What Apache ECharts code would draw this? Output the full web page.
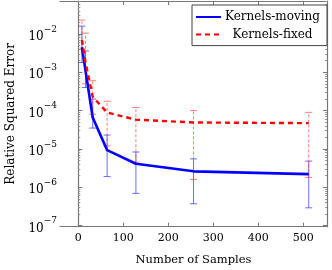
<!DOCTYPE html>
<html><head><meta charset="utf-8">
<script src="https://cdn.jsdelivr.net/npm/echarts@6/dist/echarts.min.js"></script>
<style>html,body{margin:0;padding:0;background:#fff}#c{width:332px;height:270px}</style>
</head><body><div id="c"></div>
<script>
const samples = [8, 16, 32, 64, 128, 256, 512];
const movingMean = [4.5e-3, 1.1e-3, 6.6e-5, 9.3e-6, 4.1e-6, 2.6e-6, 2.2e-6];
const movingLow  = [1.8e-3, 4.0e-4, 3.5e-5, 1.9e-6, 6.9e-7, 3.7e-7, 2.9e-7];
const movingHigh = [1.6e-2, 3.6e-3, 2.0e-4, 2.3e-5, 8.3e-6, 5.5e-6, 4.8e-6];
const fixedMean  = [7.0e-3, 1.8e-3, 2.3e-4, 8.9e-5, 5.8e-5, 4.9e-5, 4.7e-5];
const fixedLow   = [4.0e-3, 5.0e-4, 8.0e-5, 1.2e-5, 4.5e-6, 1.6e-6, 1.8e-6];
const fixedHigh  = [2.3e-2, 1.05e-2, 6.0e-4, 1.75e-4, 1.2e-4, 1.0e-4, 9.0e-5];
const xTicks = [0, 100, 200, 300, 400, 500];
const yTicks = [1e-7, 1e-6, 1e-5, 1e-4, 1e-3, 1e-2];
const yMinor = [];
for (let e = -8; e <= -1; e++) for (let m = 2; m <= 9; m++) yMinor.push(m * Math.pow(10, e));
const names = ['Kernels-moving', 'Kernels-fixed'];

const FONT = 'DejaVu Serif';
const xMin = -40.7, xMax = 552.6, yMin = Math.pow(10, -7.03), yMax = Math.pow(10, -1.14);

function errData(lo, hi) { return samples.map((x, i) => [x, lo[i], hi[i]]); }
function errSeries(name, lo, hi, color, dashed) {
  return {
    type: 'custom', name: name, z: 1,
    data: errData(lo, hi),
    encode: { x: 0, y: [1, 2] },
    renderItem: function (params, api) {
      const x = api.value(0);
      const p1 = api.coord([x, api.value(1)]);
      const p2 = api.coord([x, api.value(2)]);
      const st = { stroke: color, lineWidth: 1, lineDash: dashed ? [3, 2] : null };
      const h = 3.5;
      return { type: 'group', children: [
        { type: 'line', shape: { x1: p1[0], y1: p1[1], x2: p2[0], y2: p2[1] }, style: st },
        { type: 'line', shape: { x1: p1[0] - h, y1: p1[1], x2: p1[0] + h, y2: p1[1] }, style: { stroke: color, lineWidth: 1 } },
        { type: 'line', shape: { x1: p2[0] - h, y1: p2[1], x2: p2[0] + h, y2: p2[1] }, style: { stroke: color, lineWidth: 1 } }
      ] };
    }
  };
}
const axisCol = '#777';
const supFmt = v => {
  const e = Math.round(Math.log10(v));
  return '{b|10}{s|\u2212' + Math.abs(e) + '}';
};
const chart = echarts.init(document.getElementById('c'));
chart.setOption({
  animation: false,
  grid: { left: 60, right: 5, top: 1, bottom: 43.3, containLabel: false, outerBoundsMode: 'none' },
  legend: {
    data: names, orient: 'vertical', left: 192, top: 5,
    backgroundColor: '#fff', borderColor: '#444', borderWidth: 1, borderRadius: 0,
    padding: [6, 7, 5, 3], itemGap: 5.6, itemWidth: 25, itemHeight: 14,
    itemStyle: { opacity: 0 },
    formatter: n => '{c|' + n + '}',
    textStyle: { fontFamily: FONT, fontSize: 12, color: '#000',
      rich: { c: { fontFamily: FONT, fontSize: 12, width: 93, align: 'center' } } }
  },
  xAxis: [{
    type: 'value', min: xMin, max: xMax,
    name: 'Number of Samples', nameLocation: 'middle', nameGap: 27,
    nameTextStyle: { fontFamily: FONT, fontSize: 11.5, color: '#000' },
    axisLine: { onZero: false, lineStyle: { color: axisCol, width: 1.2 } },
    axisTick: { inside: true, length: 4, customValues: xTicks, lineStyle: { color: axisCol } },
    axisLabel: { customValues: xTicks, margin: 6, fontFamily: FONT, fontSize: 11, color: '#000' },
    splitLine: { show: false }
  }, {
    type: 'value', min: xMin, max: xMax, position: 'top',
    axisLine: { onZero: false, lineStyle: { color: axisCol, width: 1.2 } },
    axisTick: { inside: true, length: 4, customValues: xTicks, lineStyle: { color: axisCol } },
    axisLabel: { show: false }, splitLine: { show: false }
  }],
  yAxis: [{
    type: 'log', logBase: 10, min: yMin, max: yMax,
    name: 'Relative Squared Error', nameLocation: 'middle', nameGap: 43,
    nameTextStyle: { fontFamily: FONT, fontSize: 12, color: '#000' },
    axisLine: { lineStyle: { color: axisCol, width: 1.2 } },
    axisTick: { inside: true, length: 4, customValues: yTicks, lineStyle: { color: axisCol } },
    axisLabel: { customValues: yTicks, margin: 3, formatter: supFmt, color: '#000',
      rich: { b: { fontFamily: FONT, fontSize: 12, lineHeight: 18, verticalAlign: 'bottom', color: '#000' },
              s: { fontFamily: FONT, fontSize: 9, lineHeight: 18, verticalAlign: 'top', color: '#000' } } },
    splitLine: { show: false }
  }, {
    type: 'log', logBase: 10, min: yMin, max: yMax, position: 'left',
    axisLine: { show: false },
    axisTick: { inside: true, length: 2, customValues: yMinor, lineStyle: { color: '#999' } },
    axisLabel: { show: false }, splitLine: { show: false }
  }, {
    type: 'log', logBase: 10, min: yMin, max: yMax, position: 'right',
    axisLine: { lineStyle: { color: axisCol, width: 1.2 } },
    axisTick: { inside: true, length: 4, customValues: yTicks, lineStyle: { color: axisCol } },
    axisLabel: { show: false }, splitLine: { show: false }
  }, {
    type: 'log', logBase: 10, min: yMin, max: yMax, position: 'right',
    axisLine: { show: false },
    axisTick: { inside: true, length: 2, customValues: yMinor, lineStyle: { color: '#999' } },
    axisLabel: { show: false }, splitLine: { show: false }
  }],
  series: [
    errSeries('moving-err', movingLow, movingHigh, 'rgba(60,60,255,0.75)', false),
    { type: 'line', name: names[0], z: 3, data: samples.map((x, i) => [x, movingMean[i]]),
      symbol: 'none', lineStyle: { color: '#0000ff', width: 2.6 }, itemStyle: { color: '#0000ff' } },
    errSeries('fixed-err', fixedLow, fixedHigh, 'rgba(255,70,70,0.7)', true),
    { type: 'line', name: names[1], z: 4, data: samples.map((x, i) => [x, fixedMean[i]]),
      symbol: 'none', lineStyle: { color: '#ff0000', width: 2.4, type: [5, 4] }, itemStyle: { color: '#ff0000' } }
  ]
});
</script></body></html>
